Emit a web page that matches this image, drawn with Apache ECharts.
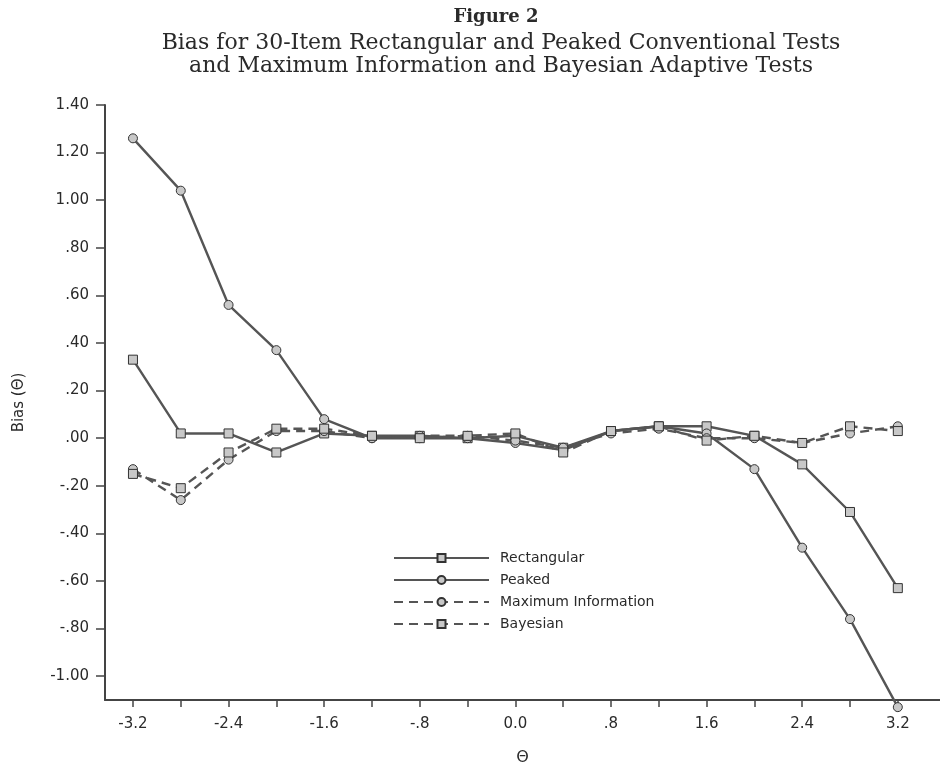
<!DOCTYPE html>
<html>
<head>
<meta charset="utf-8">
<script src="https://cdn.jsdelivr.net/npm/echarts@6/dist/echarts.min.js"></script>
<style>
html,body{margin:0;padding:0;background:#fff;}
#chart{width:940px;height:771px;}
</style>
</head>
<body>
<div id="chart"></div>
<script>
// ---- data ----
const theta = [-3.2,-2.8,-2.4,-2.0,-1.6,-1.2,-0.8,-0.4,0.0,0.4,0.8,1.2,1.6,2.0,2.4,2.8,3.2];
const rectangular = [0.33,0.02,0.02,-0.06,0.02,0.01,0.01,0.00,0.01,-0.04,0.03,0.05,0.05,0.01,-0.11,-0.31,-0.63];
const peaked      = [1.26,1.04,0.56,0.37,0.08,0.00,0.00,0.00,-0.02,-0.05,0.03,0.05,0.02,-0.13,-0.46,-0.76,-1.13];
const maxInfo     = [-0.13,-0.26,-0.09,0.03,0.03,0.00,0.01,0.01,-0.01,-0.04,0.02,0.04,0.00,0.00,-0.02,0.02,0.05];
const bayesian    = [-0.15,-0.21,-0.06,0.04,0.04,0.01,0.00,0.01,0.02,-0.06,0.03,0.05,-0.01,0.01,-0.02,0.05,0.03];
const seriesNames = ['Rectangular','Peaked','Maximum Information','Bayesian'];
const xTickValues = [-3.2,-2.8,-2.4,-2.0,-1.6,-1.2,-0.8,-0.4,0,0.4,0.8,1.2,1.6,2.0,2.4,2.8,3.2];
const xLabelValues = [-3.2,-2.4,-1.6,-0.8,0,0.8,1.6,2.4,3.2];
const yTickValues = [-1.0,-0.8,-0.6,-0.4,-0.2,0,0.2,0.4,0.6,0.8,1.0,1.2,1.4];

function pair(ys){ return theta.map((t,i)=>[t, ys[i]]); }
function fmtX(v){
  if (Math.abs(v) < 1e-9) return '0.0';
  let s = Math.abs(v).toFixed(1);
  if (s.startsWith('0')) s = s.slice(1);
  return (v < 0 ? '-' : '') + s;
}
function fmtY(v){
  let s = Math.abs(v).toFixed(2);
  if (s.startsWith('0')) s = s.slice(1);
  return (v < -1e-9 ? '-' : '') + s;
}

const sans = 'DejaVu Sans';
const serif = 'DejaVu Serif';
const ink = '#2a2a2a';

function mk(name, data, symbol, dashed){
  return {
    name: name, type: 'line', data: pair(data),
    symbol: symbol, symbolSize: 9, clip: false,
    lineStyle: {color: '#555', width: 2.4, type: dashed ? [9,6] : 'solid'},
    itemStyle: {color: '#c8c8c8', borderColor: '#333', borderWidth: 1},
    emphasis: {disabled: true}
  };
}

const chart = echarts.init(document.getElementById('chart'), null, {renderer: 'canvas'});
chart.setOption({
  backgroundColor: '#fff',
  animation: false,
  title: [
    {text: 'Figure 2', left: 491, top: 3, textAlign: 'center',
     textStyle: {fontFamily: serif, fontSize: 18, fontWeight: 'bold', color: ink}},
    {text: 'Bias for 30-Item Rectangular and Peaked Conventional Tests', left: 496, top: 27, textAlign: 'center',
     textStyle: {fontFamily: serif, fontSize: 22, fontWeight: 'normal', color: ink}},
    {text: 'and Maximum Information and Bayesian Adaptive Tests', left: 496, top: 50, textAlign: 'center',
     textStyle: {fontFamily: serif, fontSize: 22, fontWeight: 'normal', color: ink}}
  ],
  legend: {
    orient: 'vertical', left: 388, top: 546,
    itemWidth: 95, itemHeight: 10, itemGap: 8,
    data: seriesNames,
    textStyle: {fontFamily: sans, fontSize: 14, color: ink, padding: [0,0,0,6]}
  },
  grid: {left: 105, right: 0, top: 105, bottom: 62, containLabel: false},
  xAxis: {
    type: 'value', min: -3.434, max: 3.553,
    name: 'Θ', nameLocation: 'middle', nameGap: 50,
    nameTextStyle: {fontFamily: sans, fontSize: 16, color: ink},
    axisLine: {show: true, onZero: false, lineStyle: {color: '#444', width: 2}},
    axisTick: {show: true, inside: false, length: 7, lineStyle: {color: '#444', width: 1.5}, customValues: xTickValues},
    axisLabel: {show: true, margin: 17, fontFamily: sans, fontSize: 15, color: ink, customValues: xLabelValues, formatter: fmtX},
    splitLine: {show: false}
  },
  yAxis: {
    type: 'value', min: -1.1, max: 1.4,
    name: 'Bias (Θ)', nameLocation: 'middle', nameGap: 78, nameRotate: 90,
    nameTextStyle: {fontFamily: sans, fontSize: 15, color: ink},
    axisLine: {show: true, onZero: false, lineStyle: {color: '#444', width: 2}},
    axisTick: {show: true, inside: false, length: 9, lineStyle: {color: '#444', width: 1.5}, customValues: yTickValues},
    axisLabel: {show: true, margin: 16, fontFamily: sans, fontSize: 15, color: ink, customValues: yTickValues, formatter: fmtY},
    splitLine: {show: false}
  },
  series: [
    mk('Rectangular', rectangular, 'rect', false),
    mk('Peaked', peaked, 'circle', false),
    mk('Maximum Information', maxInfo, 'circle', true),
    mk('Bayesian', bayesian, 'rect', true)
  ]
});
</script>
</body>
</html>
